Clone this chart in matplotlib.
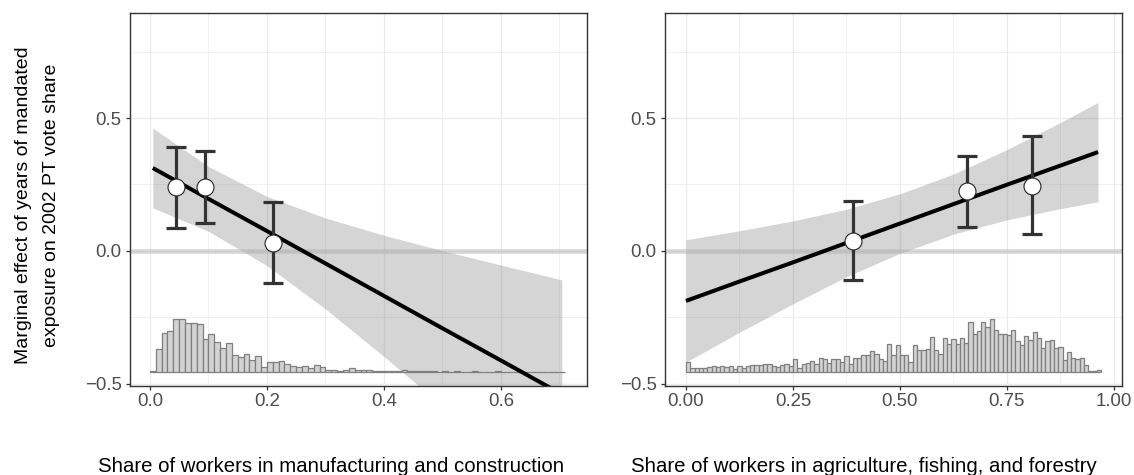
import numpy as np
import matplotlib
matplotlib.use("Agg")
import matplotlib.pyplot as plt
from matplotlib.ticker import MultipleLocator

# ---- manufacturing & construction panel -------------------------------
manu_pts_x = [0.044, 0.094, 0.210]
manu_pts_y = [0.241, 0.241, 0.030]
manu_pts_lo = [0.086, 0.105, -0.120]
manu_pts_hi = [0.391, 0.376, 0.184]

manu_fit_x = [0.005, 0.1, 0.2, 0.3, 0.4, 0.5, 0.6, 0.704]
manu_fit_y = [0.312, 0.196, 0.075, -0.047, -0.169, -0.291, -0.412, -0.539]
manu_fit_lo = [0.162, 0.074, -0.055, -0.218, -0.397, -0.583, -0.771, -0.969]
manu_fit_hi = [0.462, 0.318, 0.205, 0.124, 0.059, 0.001, -0.053, -0.109]

manu_hist = [4, 69, 115, 122, 158, 157, 145, 144, 142, 99, 114, 90, 72, 85, 50,
             45, 54, 34, 46, 16, 30, 30, 32, 23, 19, 14, 18, 11, 20, 15, 6, 6,
             3, 5, 12, 7, 6, 5, 3, 3, 4, 3, 4, 5, 2, 3, 2, 3, 2, 1, 2, 1, 2, 1,
             1, 2, 1, 1, 1, 3, 1, 1, 0, 1, 1, 0, 1, 0, 1, 0, 1]

# ---- agriculture, fishing & forestry panel ----------------------------
agri_pts_x = [0.390, 0.657, 0.808]
agri_pts_y = [0.038, 0.226, 0.244]
agri_pts_lo = [-0.109, 0.090, 0.064]
agri_pts_hi = [0.188, 0.357, 0.432]

agri_fit_x = [0.0, 0.125, 0.25, 0.375, 0.5, 0.625, 0.75, 0.875, 0.963]
agri_fit_y = [-0.188, -0.115, -0.043, 0.030, 0.103, 0.176, 0.249, 0.321, 0.372]
agri_fit_lo = [-0.418, -0.306, -0.199, -0.097, -0.009, 0.063, 0.117, 0.159, 0.185]
agri_fit_hi = [0.042, 0.076, 0.113, 0.157, 0.215, 0.289, 0.381, 0.483, 0.559]

agri_hist = [31, 13, 12, 11, 12, 15, 17, 14, 18, 15, 18, 8, 18, 13, 17, 20, 20,
             22, 23, 24, 18, 15, 20, 23, 18, 39, 13, 25, 26, 32, 24, 42, 38, 28,
             40, 38, 30, 47, 25, 41, 42, 50, 52, 64, 55, 40, 32, 83, 50, 80, 51,
             50, 31, 82, 67, 67, 70, 105, 66, 55, 102, 84, 100, 85, 102, 88, 150,
             115, 123, 150, 135, 160, 126, 114, 114, 112, 125, 93, 81, 108, 95,
             119, 103, 73, 93, 96, 73, 76, 35, 60, 41, 38, 41, 21, 3, 4, 6]

y_ticks = [-0.5, 0.0, 0.5]
manu_ticks = [0.0, 0.2, 0.4, 0.6]
agri_ticks = [0.0, 0.25, 0.50, 0.75, 1.00]
manu_ticklabels = ["0.0", "0.2", "0.4", "0.6"]
agri_ticklabels = ["0.00", "0.25", "0.50", "0.75", "1.00"]
y_ticklabels = ["\u22120.5", "0.0", "0.5"]

xlab_manu = "Share of workers in manufacturing and construction"
xlab_agri = "Share of workers in agriculture, fishing, and forestry"
ylab = "Marginal effect of years of mandated\nexposure on 2002 PT vote share"

plt.rcParams["font.family"] = ["Liberation Sans", "DejaVu Sans"]

W, H = 1134, 475
fig = plt.figure(figsize=(W / 100, H / 100), dpi=100)

HIST_BASE = -0.455
HIST_MAX = 0.20
BIN = 0.01


def panel(rect, xlim, px, py, plo, phi, fx, fy, flo, fhi, hist, ticks, labels,
          minor):
    l, t, r, b = rect
    ax = fig.add_axes([l / W, 1 - b / H, (r - l) / W, (b - t) / H])
    ax.set_xlim(*xlim)
    ax.set_ylim(-0.508, 0.895)
    ax.set_facecolor("white")

    ax.xaxis.set_minor_locator(MultipleLocator(minor))
    ax.yaxis.set_minor_locator(MultipleLocator(0.25))
    ax.set_xticks(ticks)
    ax.set_xticklabels(labels)
    ax.set_yticks(y_ticks)
    ax.set_yticklabels(y_ticklabels)
    ax.grid(True, which="major", color="#ebebeb", lw=1.0, zorder=0)
    ax.grid(True, which="minor", color="#ebebeb", lw=0.5, zorder=0)
    ax.set_axisbelow(True)
    ax.tick_params(which="major", length=3.0, width=0.9, color="#333333",
                   labelcolor="#4d4d4d", labelsize=13.4, pad=2.0)
    ax.tick_params(axis="y", pad=3.0)
    ax.tick_params(which="minor", length=0)
    for s in ax.spines.values():
        s.set_color("#333333")
        s.set_linewidth(1.0)

    # confidence band of the linear marginal effect
    ax.fill_between(fx, flo, fhi, color="#808080", alpha=0.33, lw=0, zorder=1)
    ax.axhline(0, color="#b4b4b4", alpha=0.5, lw=3.4, zorder=2)

    # distribution of the moderator
    counts = np.asarray(hist, dtype=float)
    heights = counts / counts.max() * HIST_MAX
    lefts = np.arange(len(counts)) * BIN
    ax.bar(lefts, heights, width=BIN, bottom=HIST_BASE, align="edge",
           color="#d3d3d3", edgecolor="#7f7f7f", lw=0.9, zorder=3)

    ax.plot(fx, fy, color="black", lw=2.9, solid_capstyle="butt", zorder=4)

    py = np.asarray(py)
    yerr = [py - np.asarray(plo), np.asarray(phi) - py]
    ax.errorbar(px, py, yerr=yerr, fmt="none", ecolor="#333333", elinewidth=2.3,
                capsize=7.4, capthick=2.3, zorder=5)
    ax.plot(px, py, "o", ms=12.2, mfc="white", mec="#222222", mew=0.8,
            zorder=6)
    return ax


panel((130, 13, 587, 386), (-0.034, 0.747), manu_pts_x, manu_pts_y,
      manu_pts_lo, manu_pts_hi, manu_fit_x, manu_fit_y, manu_fit_lo,
      manu_fit_hi, manu_hist, manu_ticks, manu_ticklabels, 0.1)
panel((665, 13, 1122, 386), (-0.049, 1.019), agri_pts_x, agri_pts_y,
      agri_pts_lo, agri_pts_hi, agri_fit_x, agri_fit_y, agri_fit_lo,
      agri_fit_hi, agri_hist, agri_ticks, agri_ticklabels, 0.125)

fig.text(37.5 / W, 1 - 205 / H, ylab, rotation=90, ha="center", va="center",
         fontsize=14, linespacing=1.88, color="black")
fig.text(331 / W, 1 - 472 / H, xlab_manu, ha="center", va="baseline",
         fontsize=14.7, color="black")
fig.text(864 / W, 1 - 472 / H, xlab_agri, ha="center", va="baseline",
         fontsize=14.7, color="black")

fig.savefig("out.png", dpi=100)
